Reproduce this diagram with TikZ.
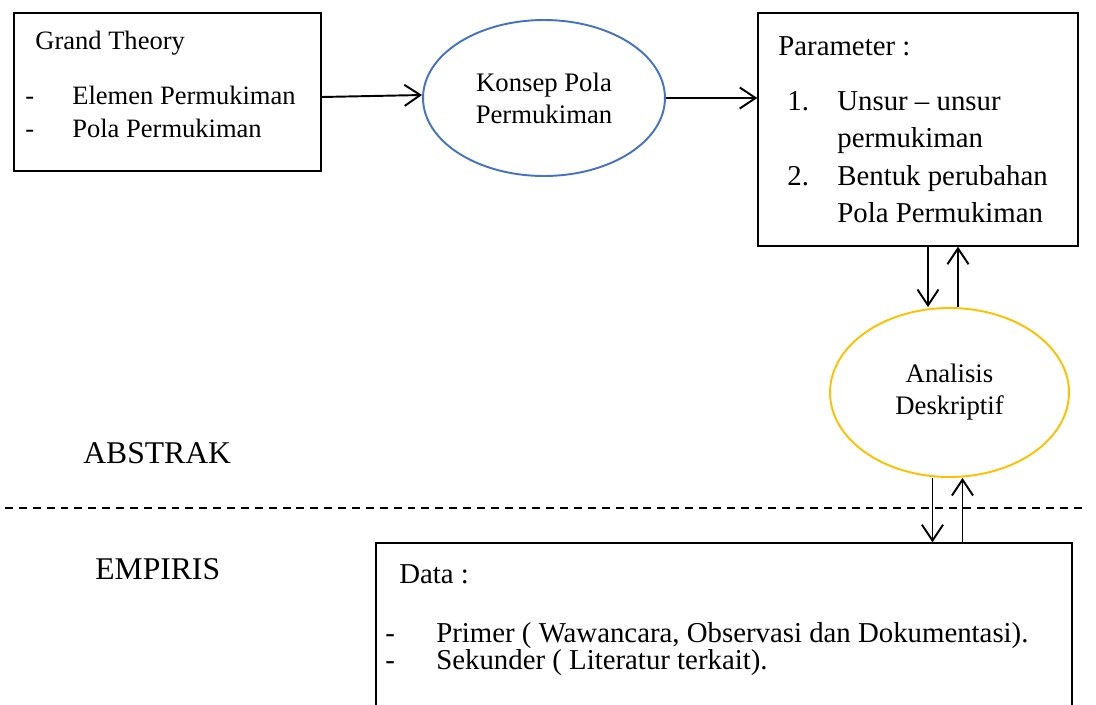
\documentclass[tikz,border=0pt]{standalone}
\usepackage{fontspec}
\setmainfont{Liberation Serif}
\usetikzlibrary{shapes.geometric,arrows.meta}
\definecolor{ellblue}{HTML}{4472C4}
\definecolor{ellyellow}{HTML}{FFC000}
\tikzset{
  boxx/.style={draw=black, line width=0.8pt, fill=none},
  txa/.style={anchor=base west, inner sep=0pt, font=\fontsize{15.1}{18}\selectfont},
  txb/.style={anchor=base west, inner sep=0pt, font=\fontsize{16.4}{19}\selectfont},
  txc/.style={anchor=base west, inner sep=0pt, font=\fontsize{18}{21}\selectfont},
  ell/.style={ellipse, line width=1.1pt, inner sep=0pt, align=center,
     font=\fontsize{15.2}{18.2}\selectfont},
  arr/.style={line width=1.1pt, -{Straight Barb[length=9pt,width=12pt,line width=1.1pt]}},
}
\begin{document}
\begin{tikzpicture}[x=0.02cm,y=-0.02cm]
\useasboundingbox (0,0) rectangle (1096,704);
\clip (0,0) rectangle (1096,704);
% boxes
\node[boxx, minimum width=6.14cm, minimum height=3.16cm, inner sep=0pt] (grand) at (167.5,92) {};
\node[boxx, minimum width=6.4cm, minimum height=4.66cm, inner sep=0pt] (param) at (918,129.5) {};
\node[boxx, minimum width=13.92cm, minimum height=3.4cm, inner sep=0pt] (data) at (724,628) {};
% ellipses
\node[ell, draw=ellblue, minimum width=4.84cm, minimum height=3.12cm] (konsep) at (544,98) {Konsep Pola\\Permukiman};
\node[ell, draw=ellyellow, minimum width=4.78cm, minimum height=3.38cm] (analisis) at (949.5,392.5) {Analisis\\Deskriptif};
% grand theory texts
\node[txa] (gt) at (35,49) {Grand Theory};
\node[txa] (gd1) at (25,104) {-};
\node[txa] (gt1) at (72,104) {Elemen Permukiman};
\node[txa] (gd2) at (25,137) {-};
\node[txa] (gt2) at (72,137) {Pola Permukiman};
% parameter texts
\node[txb] (pt) at (778,55) {Parameter :};
\node[txb] (pn1) at (787,110) {1.};
\node[txb] (p1) at (837,110) {Unsur -- unsur};
\node[txb] (p1b) at (837,147) {permukiman};
\node[txb] (pn2) at (787,185) {2.};
\node[txb] (p2) at (837,185) {Bentuk perubahan};
\node[txb] (p2b) at (837,222) {Pola Permukiman};
% data texts
\node[txb] (dt) at (399,583) {Data :};
\node[txb] (dd1) at (385,642) {-};
\node[txb] (d1) at (436,642) {Primer ( Wawancara, Observasi dan Dokumentasi).};
\node[txb] (dd2) at (385,669) {-};
\node[txb] (d2) at (436,669) {Sekunder ( Literatur terkait).};
% labels
\node[txc] (abs) at (83,463) {ABSTRAK};
\node[txc] (emp) at (95,579) {EMPIRIS};
% dashed line
\coordinate (dl) at (5,508);
\coordinate (dr) at (1086,508);
\draw[line width=1.1pt, dash pattern=on 4.5pt off 3.4pt] (dl) -- (dr);
% connectors
\draw[arr] ([yshift=-0.1cm]grand.east) -- ([yshift=0.06cm]konsep.west);
\draw[arr] (konsep.east) -- (konsep.east -| param.west);
\draw[arr] ([xshift=0.2cm]param.south) -- ([xshift=0.2cm]param.south |- analisis.north);
\draw[arr] ([xshift=0.8cm]param.south |- analisis.north) -- ([xshift=0.8cm]param.south);
\draw[arr] ([xshift=-0.34cm]analisis.south) -- ([xshift=-0.34cm]analisis.south |- data.north);
\draw[arr] ([xshift=0.26cm]analisis.south |- data.north) -- ([xshift=0.26cm]analisis.south);
\end{tikzpicture}
\end{document}
